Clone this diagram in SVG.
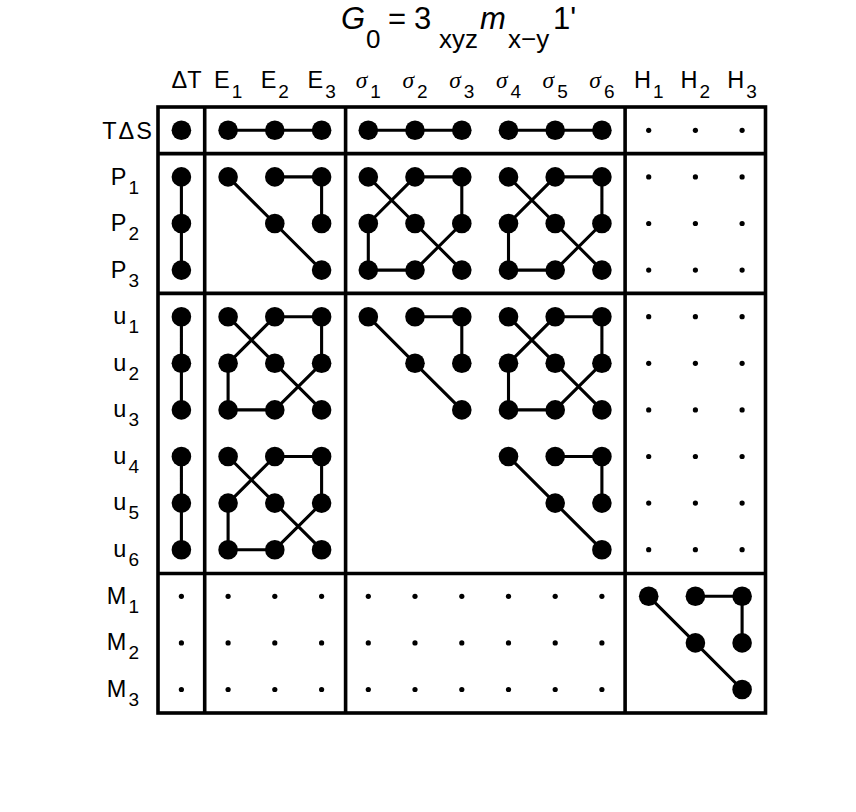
<svg xmlns="http://www.w3.org/2000/svg" width="856" height="812" viewBox="0 0 856 812">
<style>
text{font-family:"Liberation Sans",Arial,sans-serif;fill:#000}
.t{font-size:31px}
.ts{font-size:26px}
.h{font-size:23.5px;text-anchor:middle}
.r{font-size:23.5px;text-anchor:end}
.s{font-size:19px}
.g{font-family:"Liberation Serif","DejaVu Serif",serif;font-style:italic}
.i{font-style:italic}
.grid{fill:none;stroke:#000;stroke-width:3.6}
.ln{fill:none;stroke:#000;stroke-width:3.1;stroke-linejoin:round}
.n circle{fill:#000}
.big{r:9.8px}
.dot{r:2.6px}
</style>
<rect width="856" height="812" fill="#fff"/>
<g id="title">
<text class="t" y="28.5"><tspan class="i" x="341">G</tspan><tspan class="ts" x="366" y="48">0</tspan><tspan x="388" y="28.5">=</tspan><tspan x="414">3</tspan><tspan class="ts" x="439" y="48">xyz</tspan><tspan class="i" x="480" y="28.5">m</tspan><tspan class="ts" x="508" y="48">x−y</tspan><tspan x="553" y="28.5">1'</tspan></text>
</g>
<g id="col-labels">
<text class="h" x="186.5" y="88">ΔT</text>
<text class="h" x="228.1" y="88">E<tspan class="s" dx="2" dy="10">1</tspan></text>
<text class="h" x="274.8" y="88">E<tspan class="s" dx="2" dy="10">2</tspan></text>
<text class="h" x="321.6" y="88">E<tspan class="s" dx="2" dy="10">3</tspan></text>
<text class="h" x="368.3" y="88"><tspan class="g">σ</tspan><tspan class="s" dx="3" dy="10">1</tspan></text>
<text class="h" x="415" y="88"><tspan class="g">σ</tspan><tspan class="s" dx="3" dy="10">2</tspan></text>
<text class="h" x="461.8" y="88"><tspan class="g">σ</tspan><tspan class="s" dx="3" dy="10">3</tspan></text>
<text class="h" x="508.5" y="88"><tspan class="g">σ</tspan><tspan class="s" dx="3" dy="10">4</tspan></text>
<text class="h" x="555.2" y="88"><tspan class="g">σ</tspan><tspan class="s" dx="3" dy="10">5</tspan></text>
<text class="h" x="601.9" y="88"><tspan class="g">σ</tspan><tspan class="s" dx="3" dy="10">6</tspan></text>
<text class="h" x="648.7" y="88">H<tspan class="s" dx="2" dy="10">1</tspan></text>
<text class="h" x="695.4" y="88">H<tspan class="s" dx="2" dy="10">2</tspan></text>
<text class="h" x="742.1" y="88">H<tspan class="s" dx="2" dy="10">3</tspan></text>
</g>
<g id="row-labels">
<text class="r" x="154" y="138.5" style="letter-spacing:2px">TΔS</text>
<text class="r" x="139" y="184.5">P<tspan class="s" dx="2" dy="9">1</tspan></text>
<text class="r" x="139" y="231">P<tspan class="s" dx="2" dy="9">2</tspan></text>
<text class="r" x="139" y="277.5">P<tspan class="s" dx="2" dy="9">3</tspan></text>
<text class="r" x="139" y="324">u<tspan class="s" dx="2" dy="9">1</tspan></text>
<text class="r" x="139" y="370.5">u<tspan class="s" dx="2" dy="9">2</tspan></text>
<text class="r" x="139" y="417">u<tspan class="s" dx="2" dy="9">3</tspan></text>
<text class="r" x="139" y="463.5">u<tspan class="s" dx="2" dy="9">4</tspan></text>
<text class="r" x="139" y="510">u<tspan class="s" dx="2" dy="9">5</tspan></text>
<text class="r" x="139" y="556.5">u<tspan class="s" dx="2" dy="9">6</tspan></text>
<text class="r" x="139" y="603.5">M<tspan class="s" dx="2" dy="9">1</tspan></text>
<text class="r" x="139" y="650">M<tspan class="s" dx="2" dy="9">2</tspan></text>
<text class="r" x="139" y="696.5">M<tspan class="s" dx="2" dy="9">3</tspan></text>
</g>
<g id="grid">
<rect class="grid" x="158" y="107" width="607.5" height="606"/>
<path class="grid" d="M204.7,107V713 M345.6,107V713 M625.1,107V713 M158,153.6H765.5 M158,293.4H765.5 M158,573.5H765.5"/>
</g>
<g id="connectors" class="ln">
<path d="M228.1,130.3H321.6 M368.3,130.3H461.8 M508.5,130.3H601.9"/>
<path d="M181.4,176.9V270.1 M228.1,176.9L274.8,223.5L321.6,270.1 M274.8,176.9H321.6V223.5"/>
<path d="M368.3,176.9L415,223.5L461.8,270.1 M415,176.9L368.3,223.5V270.1H415L461.8,223.5V176.9Z"/>
<path d="M508.5,176.9L555.2,223.5L601.9,270.1 M555.2,176.9L508.5,223.5V270.1H555.2L601.9,223.5V176.9Z"/>
<path d="M181.4,316.7V409.9 M228.1,316.7L274.8,363.3L321.6,409.9 M274.8,316.7L228.1,363.3V409.9H274.8L321.6,363.3V316.7Z"/>
<path d="M368.3,316.7L415,363.3L461.8,409.9 M415,316.7H461.8V363.3"/>
<path d="M508.5,316.7L555.2,363.3L601.9,409.9 M555.2,316.7L508.5,363.3V409.9H555.2L601.9,363.3V316.7Z"/>
<path d="M181.4,456.5V549.7 M228.1,456.5L274.8,503.1L321.6,549.7 M274.8,456.5L228.1,503.1V549.7H274.8L321.6,503.1V456.5Z"/>
<path d="M508.5,456.5L555.2,503.1L601.9,549.7 M555.2,456.5H601.9V503.1"/>
<path d="M648.7,596.3L695.4,642.9L742.1,689.5 M695.4,596.3H742.1V642.9"/>
</g>
<g id="node-TdS" class="n">
<circle class="big" cx="181.4" cy="130.3"/>
<circle class="big" cx="228.1" cy="130.3"/><circle class="big" cx="274.8" cy="130.3"/><circle class="big" cx="321.6" cy="130.3"/>
<circle class="big" cx="368.3" cy="130.3"/><circle class="big" cx="415" cy="130.3"/><circle class="big" cx="461.8" cy="130.3"/>
<circle class="big" cx="508.5" cy="130.3"/><circle class="big" cx="555.2" cy="130.3"/><circle class="big" cx="601.9" cy="130.3"/>
<circle class="dot" cx="648.7" cy="130.3"/><circle class="dot" cx="695.4" cy="130.3"/><circle class="dot" cx="742.1" cy="130.3"/>
</g>
<g id="node-P" class="n">
<circle class="big" cx="181.4" cy="176.9"/><circle class="big" cx="181.4" cy="223.5"/><circle class="big" cx="181.4" cy="270.1"/>
<circle class="big" cx="228.1" cy="176.9"/><circle class="big" cx="274.8" cy="176.9"/><circle class="big" cx="321.6" cy="176.9"/>
<circle class="big" cx="274.8" cy="223.5"/><circle class="big" cx="321.6" cy="223.5"/><circle class="big" cx="321.6" cy="270.1"/>
<circle class="big" cx="368.3" cy="176.9"/><circle class="big" cx="415" cy="176.9"/><circle class="big" cx="461.8" cy="176.9"/>
<circle class="big" cx="368.3" cy="223.5"/><circle class="big" cx="415" cy="223.5"/><circle class="big" cx="461.8" cy="223.5"/>
<circle class="big" cx="368.3" cy="270.1"/><circle class="big" cx="415" cy="270.1"/><circle class="big" cx="461.8" cy="270.1"/>
<circle class="big" cx="508.5" cy="176.9"/><circle class="big" cx="555.2" cy="176.9"/><circle class="big" cx="601.9" cy="176.9"/>
<circle class="big" cx="508.5" cy="223.5"/><circle class="big" cx="555.2" cy="223.5"/><circle class="big" cx="601.9" cy="223.5"/>
<circle class="big" cx="508.5" cy="270.1"/><circle class="big" cx="555.2" cy="270.1"/><circle class="big" cx="601.9" cy="270.1"/>
<circle class="dot" cx="648.7" cy="176.9"/><circle class="dot" cx="695.4" cy="176.9"/><circle class="dot" cx="742.1" cy="176.9"/>
<circle class="dot" cx="648.7" cy="223.5"/><circle class="dot" cx="695.4" cy="223.5"/><circle class="dot" cx="742.1" cy="223.5"/>
<circle class="dot" cx="648.7" cy="270.1"/><circle class="dot" cx="695.4" cy="270.1"/><circle class="dot" cx="742.1" cy="270.1"/>
</g>
<g id="node-u123" class="n">
<circle class="big" cx="181.4" cy="316.7"/><circle class="big" cx="181.4" cy="363.3"/><circle class="big" cx="181.4" cy="409.9"/>
<circle class="big" cx="228.1" cy="316.7"/><circle class="big" cx="274.8" cy="316.7"/><circle class="big" cx="321.6" cy="316.7"/>
<circle class="big" cx="228.1" cy="363.3"/><circle class="big" cx="274.8" cy="363.3"/><circle class="big" cx="321.6" cy="363.3"/>
<circle class="big" cx="228.1" cy="409.9"/><circle class="big" cx="274.8" cy="409.9"/><circle class="big" cx="321.6" cy="409.9"/>
<circle class="big" cx="368.3" cy="316.7"/><circle class="big" cx="415" cy="316.7"/><circle class="big" cx="461.8" cy="316.7"/>
<circle class="big" cx="415" cy="363.3"/><circle class="big" cx="461.8" cy="363.3"/><circle class="big" cx="461.8" cy="409.9"/>
<circle class="big" cx="508.5" cy="316.7"/><circle class="big" cx="555.2" cy="316.7"/><circle class="big" cx="601.9" cy="316.7"/>
<circle class="big" cx="508.5" cy="363.3"/><circle class="big" cx="555.2" cy="363.3"/><circle class="big" cx="601.9" cy="363.3"/>
<circle class="big" cx="508.5" cy="409.9"/><circle class="big" cx="555.2" cy="409.9"/><circle class="big" cx="601.9" cy="409.9"/>
<circle class="dot" cx="648.7" cy="316.7"/><circle class="dot" cx="695.4" cy="316.7"/><circle class="dot" cx="742.1" cy="316.7"/>
<circle class="dot" cx="648.7" cy="363.3"/><circle class="dot" cx="695.4" cy="363.3"/><circle class="dot" cx="742.1" cy="363.3"/>
<circle class="dot" cx="648.7" cy="409.9"/><circle class="dot" cx="695.4" cy="409.9"/><circle class="dot" cx="742.1" cy="409.9"/>
</g>
<g id="node-u456" class="n">
<circle class="big" cx="181.4" cy="456.5"/><circle class="big" cx="181.4" cy="503.1"/><circle class="big" cx="181.4" cy="549.7"/>
<circle class="big" cx="228.1" cy="456.5"/><circle class="big" cx="274.8" cy="456.5"/><circle class="big" cx="321.6" cy="456.5"/>
<circle class="big" cx="228.1" cy="503.1"/><circle class="big" cx="274.8" cy="503.1"/><circle class="big" cx="321.6" cy="503.1"/>
<circle class="big" cx="228.1" cy="549.7"/><circle class="big" cx="274.8" cy="549.7"/><circle class="big" cx="321.6" cy="549.7"/>
<circle class="big" cx="508.5" cy="456.5"/><circle class="big" cx="555.2" cy="456.5"/><circle class="big" cx="601.9" cy="456.5"/>
<circle class="big" cx="555.2" cy="503.1"/><circle class="big" cx="601.9" cy="503.1"/><circle class="big" cx="601.9" cy="549.7"/>
<circle class="dot" cx="648.7" cy="456.5"/><circle class="dot" cx="695.4" cy="456.5"/><circle class="dot" cx="742.1" cy="456.5"/>
<circle class="dot" cx="648.7" cy="503.1"/><circle class="dot" cx="695.4" cy="503.1"/><circle class="dot" cx="742.1" cy="503.1"/>
<circle class="dot" cx="648.7" cy="549.7"/><circle class="dot" cx="695.4" cy="549.7"/><circle class="dot" cx="742.1" cy="549.7"/>
</g>
<g id="node-M" class="n">
<circle class="dot" cx="181.4" cy="596.3"/><circle class="dot" cx="228.1" cy="596.3"/><circle class="dot" cx="274.8" cy="596.3"/><circle class="dot" cx="321.6" cy="596.3"/><circle class="dot" cx="368.3" cy="596.3"/><circle class="dot" cx="415" cy="596.3"/><circle class="dot" cx="461.8" cy="596.3"/><circle class="dot" cx="508.5" cy="596.3"/><circle class="dot" cx="555.2" cy="596.3"/><circle class="dot" cx="601.9" cy="596.3"/>
<circle class="dot" cx="181.4" cy="642.9"/><circle class="dot" cx="228.1" cy="642.9"/><circle class="dot" cx="274.8" cy="642.9"/><circle class="dot" cx="321.6" cy="642.9"/><circle class="dot" cx="368.3" cy="642.9"/><circle class="dot" cx="415" cy="642.9"/><circle class="dot" cx="461.8" cy="642.9"/><circle class="dot" cx="508.5" cy="642.9"/><circle class="dot" cx="555.2" cy="642.9"/><circle class="dot" cx="601.9" cy="642.9"/>
<circle class="dot" cx="181.4" cy="689.5"/><circle class="dot" cx="228.1" cy="689.5"/><circle class="dot" cx="274.8" cy="689.5"/><circle class="dot" cx="321.6" cy="689.5"/><circle class="dot" cx="368.3" cy="689.5"/><circle class="dot" cx="415" cy="689.5"/><circle class="dot" cx="461.8" cy="689.5"/><circle class="dot" cx="508.5" cy="689.5"/><circle class="dot" cx="555.2" cy="689.5"/><circle class="dot" cx="601.9" cy="689.5"/>
<circle class="big" cx="648.7" cy="596.3"/><circle class="big" cx="695.4" cy="596.3"/><circle class="big" cx="742.1" cy="596.3"/>
<circle class="big" cx="695.4" cy="642.9"/><circle class="big" cx="742.1" cy="642.9"/><circle class="big" cx="742.1" cy="689.5"/>
</g>
</svg>
